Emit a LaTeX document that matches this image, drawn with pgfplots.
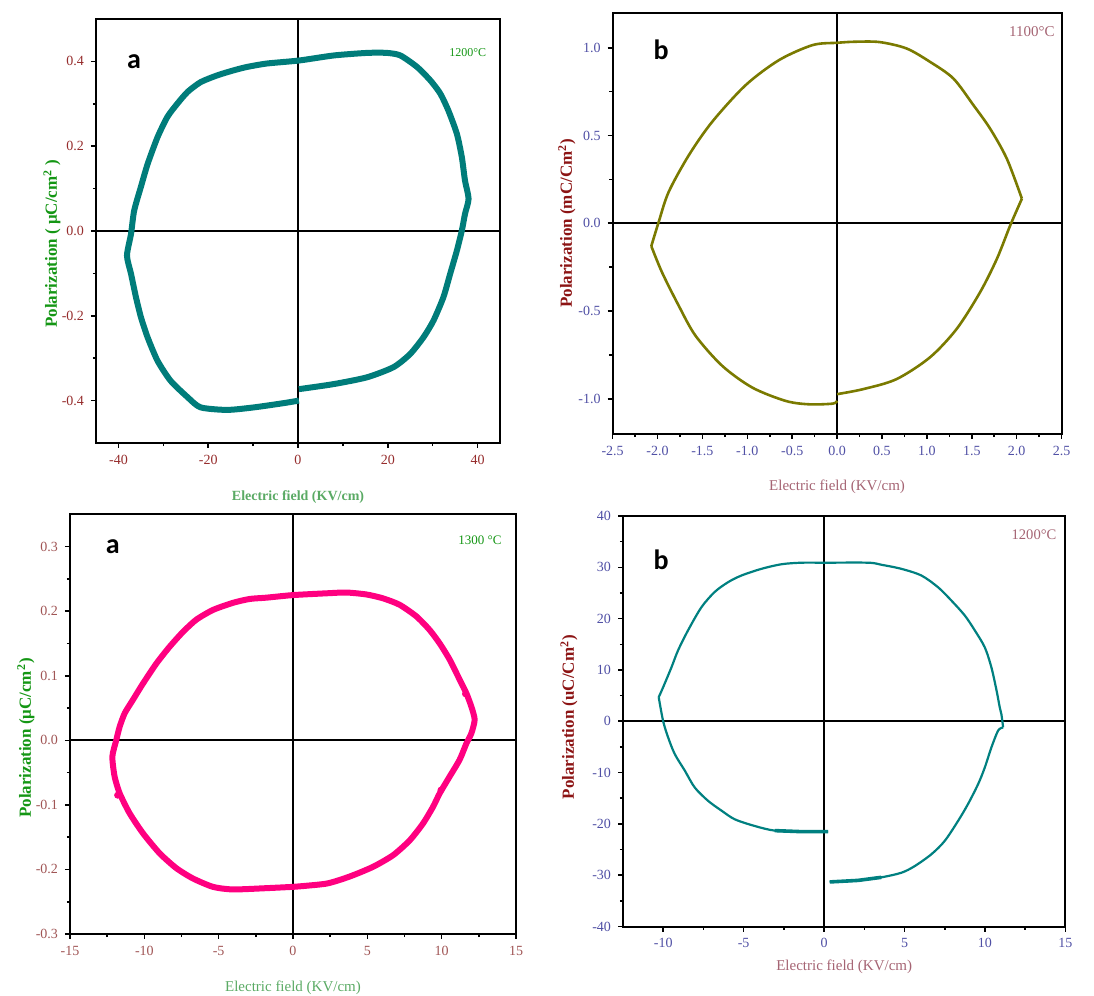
\documentclass[border=0pt]{standalone}
\usepackage{pgfplots}
\pgfplotsset{compat=1.18}
\usepackage{fontspec}
\setmainfont{Liberation Serif}
\newfontfamily\panelfont{Carlito}
\definecolor{tealA}{RGB}{0,124,122}
\definecolor{oliveB}{RGB}{122,122,0}
\definecolor{pinkC}{RGB}{255,0,128}
\definecolor{tealD}{RGB}{0,128,128}
\definecolor{dkred}{RGB}{150,45,45}
\definecolor{brred}{RGB}{160,85,85}
\definecolor{slate}{RGB}{80,80,165}
\definecolor{grn}{RGB}{20,150,20}
\definecolor{lgrn}{RGB}{90,170,100}
\definecolor{maroon}{RGB}{140,20,20}
\definecolor{pinkbr}{RGB}{165,100,115}
\pgfplotsset{
  myax/.style={scale only axis, anchor=south west,
    axis line style={line width=1pt},
    tick align=outside, xtick pos=left, ytick pos=left,
    major tick length=2.5pt, minor tick length=1.6pt,
    every tick/.style={black, line width=0.8pt},
    minor x tick num=1, minor y tick num=1,
    /pgf/number format/assume math mode=true,
    tick label style={font=\fontsize{7}{8}\selectfont},
    xlabel style={anchor=center},
    ylabel style={anchor=center, rotate=0},
  },
}
\begin{document}
\begin{tikzpicture}
\path[use as bounding box] (0,0) rectangle (547pt,498pt);
% ---------- Panel 1 ----------
\begin{axis}[myax, at={(48pt,276.5pt)}, width=202pt, height=212pt,
  xmin=-45, xmax=45, ymin=-0.5, ymax=0.5,
  xtick={-40,-20,0,20,40}, ytick={-0.4,-0.2,0,0.2,0.4},
  yticklabel style={/pgf/number format/.cd, fixed, fixed zerofill, precision=1},
  tick label style={color=dkred},
  xlabel={\bfseries Electric field (KV/cm)},
  ylabel={\bfseries Polarization ( μC/cm\textsuperscript{2} )},
  xlabel style={at={(axis description cs:0.5,-0.127)}, color=lgrn, font=\fontsize{7}{8}\selectfont},
  ylabel style={at={(axis description cs:-0.109,0.47)}, color=grn, font=\fontsize{8.5}{9}\selectfont},
]
\draw[black, line width=0.8pt] (axis cs:0,-0.5) -- (axis cs:0,0.5);
\draw[black, line width=0.8pt] (axis cs:-45,0) -- (axis cs:45,0);
\addplot[tealA, line width=3pt, smooth, tension=0.4, line join=round] coordinates {
(0.2,-0.373) (8.0,-0.361) (15.4,-0.345) (21.3,-0.321) (25.0,-0.290) (28.0,-0.250) (30.2,-0.211) (32.4,-0.156) (33.9,-0.101) (35.4,-0.046) (36.5,0.001) (37.2,0.040) (38.0,0.076) (37.2,0.119) (36.5,0.174) (35.4,0.229) (33.5,0.284) (31.7,0.324) (29.5,0.355) (26.5,0.387) (22.8,0.414) (19.8,0.420) (15.4,0.420) (8.0,0.414) (0.2,0.402) (-6.9,0.395) (-11.3,0.387) (-14.3,0.379) (-18.0,0.367) (-21.7,0.351) (-24.6,0.328) (-26.9,0.300) (-29.1,0.269) (-31.3,0.221) (-33.5,0.158) (-35.0,0.104) (-36.5,0.048) (-37.2,-0.007) (-38.1,-0.058) (-37.2,-0.101) (-36.1,-0.156) (-35.0,-0.203) (-33.5,-0.251) (-31.3,-0.306) (-28.4,-0.353) (-24.6,-0.392) (-21.7,-0.416) (-15.8,-0.422) (-9.8,-0.416) (-3.2,-0.406) (0.2,-0.400)
};
\node[color=grn, font=\fontsize{6}{7}\selectfont] at (axis description cs:0.92,0.92) {1200°C};
\node[font=\panelfont\bfseries\fontsize{14}{14}\selectfont] at (axis description cs:0.094,0.899) {a};
\end{axis}
% ---------- Panel 2 ----------
\begin{axis}[myax, at={(306.3pt,281pt)}, width=224.5pt, height=210.7pt,
  xmin=-2.5, xmax=2.5, ymin=-1.2, ymax=1.2,
  xtick={-2.5,-2,...,2.5}, ytick={-1,-0.5,0,0.5,1},
  tick label style={color=slate, /pgf/number format/.cd, fixed, fixed zerofill, precision=1},
  xlabel={Electric field (KV/cm)},
  ylabel={\bfseries Polarization (mC/Cm\textsuperscript{2})},
  xlabel style={at={(axis description cs:0.5,-0.126)}, color=pinkbr, font=\fontsize{7.5}{8}\selectfont},
  ylabel style={at={(axis description cs:-0.102,0.5)}, color=maroon, font=\fontsize{8.5}{9}\selectfont},
]
\draw[black, line width=0.8pt] (axis cs:0,-1.2) -- (axis cs:0,1.2);
\draw[black, line width=0.8pt] (axis cs:-2.5,0) -- (axis cs:2.5,0);
\addplot[oliveB, line width=1.3pt, smooth, tension=0.5] coordinates {
(0,-0.973) (0.287,-0.945) (0.660,-0.888) (1.033,-0.764) (1.331,-0.602) (1.592,-0.393) (1.779,-0.203) (1.928,-0.012) (2.058,0.140)
};
\addplot[oliveB, line width=1.3pt, smooth, tension=0.5] coordinates {
(2.058,0.140) (1.890,0.368) (1.704,0.539) (1.518,0.673) (1.294,0.825) (1.033,0.920) (0.772,0.996) (0.474,1.032) (0.2,1.034) (0,1.028) (-0.272,1.015) (-0.645,0.930) (-1.018,0.787) (-1.391,0.578) (-1.652,0.387) (-1.876,0.178) (-1.987,0.007) (-2.069,-0.130)
};
\addplot[oliveB, line width=1.3pt, smooth, tension=0.5] coordinates {
(-2.069,-0.130) (-1.950,-0.279) (-1.764,-0.469) (-1.577,-0.640) (-1.279,-0.812) (-0.943,-0.936) (-0.570,-1.012) (-0.309,-1.031) (-0.048,-1.027) (0,-1.011)
};
\node[color=pinkbr, font=\fontsize{7.5}{8}\selectfont] at (axis description cs:0.934,0.954) {1100°C};
\node[font=\panelfont\bfseries\fontsize{14}{14}\selectfont] at (axis description cs:0.108,0.911) {b};
\end{axis}
% ---------- Panel 3 ----------
\begin{axis}[myax, at={(35pt,31pt)}, width=223pt, height=209.8pt,
  xmin=-15, xmax=15, ymin=-0.3, ymax=0.35,
  xtick={-15,-10,...,15}, ytick={-0.3,-0.2,...,0.31},
  yticklabel style={/pgf/number format/.cd, fixed, fixed zerofill, precision=1},
  tick label style={color=brred},
  xlabel={Electric field (KV/cm)},
  ylabel={\bfseries Polarization (μC/cm\textsuperscript{2})},
  xlabel style={at={(axis description cs:0.5,-0.129)}, color=lgrn, font=\fontsize{7.5}{8}\selectfont},
  ylabel style={at={(axis description cs:-0.099,0.467)}, color=grn, font=\fontsize{8.5}{9}\selectfont},
]
\draw[black, line width=0.9pt] (axis cs:0,-0.3) -- (axis cs:0,0.35);
\draw[black, line width=0.9pt] (axis cs:-15,0) -- (axis cs:15,0);
\addplot[pinkC, line width=3pt, smooth, tension=0.4, line join=round] coordinates {
(0,-0.227) (2.24,-0.222) (3.81,-0.211) (5.38,-0.196) (6.73,-0.178) (7.85,-0.155) (8.74,-0.129) (9.42,-0.103) (9.87,-0.082) (10.54,-0.056) (11.21,-0.030) (11.66,-0.005) (12.0,0.011) (12.22,0.032) (12.0,0.052) (11.66,0.073) (11.21,0.094) (10.54,0.125) (9.87,0.150) (9.19,0.171) (8.30,0.192) (7.17,0.210) (6.05,0.220) (4.93,0.226) (3.59,0.229) (2.47,0.228) (0,0.225) (-1.79,0.221) (-2.91,0.219) (-4.04,0.213) (-5.38,0.202) (-6.50,0.187) (-7.40,0.168) (-8.30,0.145) (-9.19,0.119) (-10.09,0.088) (-10.76,0.063) (-11.32,0.042) (-11.66,0.021) (-11.88,0.001) (-12.15,-0.025) (-12.0,-0.056) (-11.66,-0.082) (-10.99,-0.113) (-10.09,-0.144) (-8.97,-0.175) (-7.85,-0.198) (-6.73,-0.214) (-5.38,-0.227) (-4.04,-0.231) (-1.79,-0.229) (0,-0.227)
};
\addplot[pinkC, only marks, mark=*, mark size=1.5pt] coordinates {(9.95,-0.077) (11.6,0.072) (-11.8,-0.085)};
\node[color=grn, font=\fontsize{6.5}{7}\selectfont] at (axis description cs:0.919,0.939) {1300 °C};
\node[font=\panelfont\bfseries\fontsize{14}{14}\selectfont] at (axis description cs:0.096,0.922) {a};
\end{axis}
% ---------- Panel 4 ----------
\begin{axis}[myax, at={(311.5pt,34.7pt)}, width=221.2pt, height=205.3pt,
  xmin=-12.5, xmax=15, ymin=-40, ymax=40,
  xtick={-10,-5,...,15}, ytick={-40,-30,...,40},
  tick label style={color=slate},
  xlabel={Electric field (KV/cm)},
  ylabel={\bfseries Polarization (uC/Cm\textsuperscript{2})},
  xlabel style={at={(axis description cs:0.5,-0.098)}, color=pinkbr, font=\fontsize{7.5}{8}\selectfont},
  ylabel style={at={(axis description cs:-0.122,0.51)}, color=maroon, font=\fontsize{8.5}{9}\selectfont},
]
\draw[black, line width=0.8pt] (axis cs:0,-40) -- (axis cs:0,40);
\draw[black, line width=0.8pt] (axis cs:-12.5,0) -- (axis cs:15,0);
\addplot[tealD, line width=1.1pt, smooth, tension=0.5] coordinates {
(0.35,-31.3) (2.11,-31.0) (3.56,-30.4) (4.81,-29.5) (5.64,-28.2) (6.67,-25.9) (7.50,-23.3) (8.33,-19.4) (8.95,-16.1) (9.58,-12.2) (9.99,-9.0) (10.40,-5.1) (10.82,-1.8) (11.13,-1.2)
};
\addplot[tealD, line width=1.1pt, smooth, tension=0.5] coordinates {
(11.13,-1.2) (11.02,1.4) (10.92,2.7) (10.72,6.0) (10.40,10.5) (9.99,14.4) (9.37,17.7) (8.75,20.6) (7.92,23.5) (7.09,26.1) (6.05,28.4) (4.81,29.7) (3.56,30.5) (2.74,30.9) (0,30.9) (-1.41,30.9) (-2.65,30.6) (-3.90,29.7) (-5.14,28.4) (-5.97,27.1) (-6.80,25.2) (-7.63,22.2) (-8.46,17.7) (-9.08,13.8) (-9.49,10.5) (-10.01,6.6) (-10.28,4.7)
};
\addplot[tealD, line width=1.1pt, smooth, tension=0.5] coordinates {
(-10.28,4.7) (-10.01,0.1) (-9.70,-3.1) (-9.28,-6.4) (-8.66,-9.6) (-8.04,-12.9) (-7.21,-15.5) (-6.38,-17.4) (-5.55,-19.1) (-4.31,-20.4) (-3.07,-21.3) (-1.41,-21.5) (0.25,-21.5)
};
\addplot[tealD, line width=1.8pt] coordinates {(-3.07,-21.3) (-1.41,-21.5) (0.25,-21.5)};
\addplot[tealD, line width=1.8pt] coordinates {(0.35,-31.3) (2.11,-31.0) (3.56,-30.4)};
\node[color=pinkbr, font=\fontsize{7.3}{8}\selectfont] at (axis description cs:0.929,0.954) {1200°C};
\node[font=\panelfont\bfseries\fontsize{14}{14}\selectfont] at (axis description cs:0.086,0.893) {b};
\end{axis}
\end{tikzpicture}
\end{document}
